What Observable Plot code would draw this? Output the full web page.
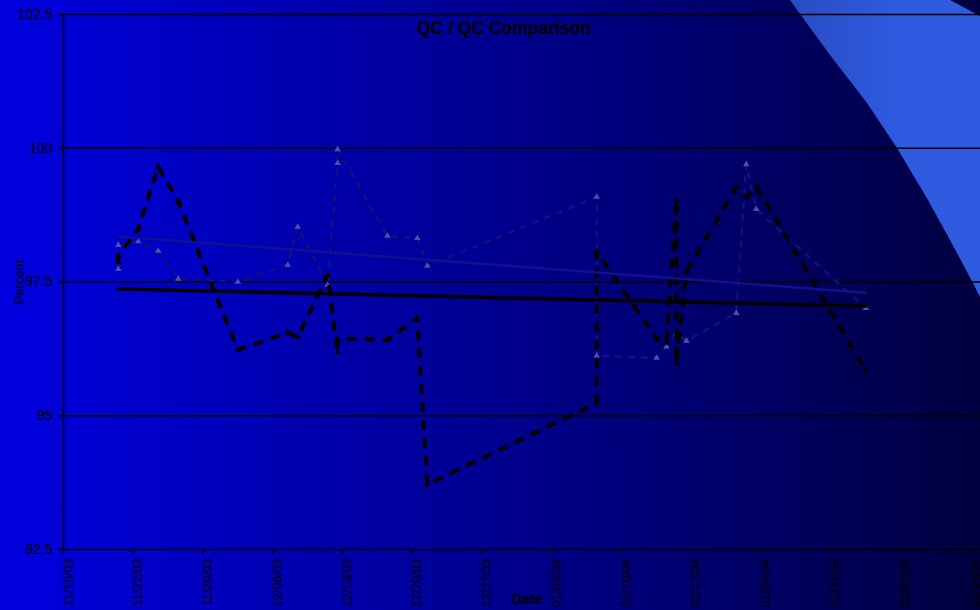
<!DOCTYPE html>
<html>
<head>
<meta charset="utf-8">
<script src="https://cdn.jsdelivr.net/npm/d3@7"></script>
<script src="https://cdn.jsdelivr.net/npm/@observablehq/plot@0.6"></script>
<style>
  html, body { margin: 0; padding: 0; background: #000050; }
  #wrap { position: relative; width: 980px; height: 610px; overflow: hidden;
          background: linear-gradient(to right, #0000e0 0%, #000040 100%);
          font-family: "Liberation Sans", Arial, sans-serif; }
  #deco { position: absolute; left: 0; top: 0; }
  #chart { position: absolute; left: 0; top: 0; }
  .lbl { position: absolute; color: #000; white-space: nowrap; line-height: 1; }
</style>
</head>
<body>
<div id="wrap">
  <svg id="deco" width="980" height="610">
    <defs>
      <linearGradient id="band" x1="790" x2="900" y1="0" y2="0" gradientUnits="userSpaceOnUse">
        <stop offset="0" stop-color="#294cc2"/>
        <stop offset="1" stop-color="#2e5be0"/>
      </linearGradient>
    </defs>
    <path d="M790,0 L950,0 L980,16 L980,297 L973,283 L950,240 L928,200 L897,148 L867,103 L830,55 L800,14 Z" fill="url(#band)"/>
  </svg>
  <div id="chart"></div>
  <div class="lbl" id="title" style="left:504px; top:20px; transform:translateX(-50%); font-size:17.5px; font-weight:bold;"></div>
  <div class="lbl" id="ylab" style="left:19px; top:282px; transform:translate(-50%,-50%) rotate(-90deg); font-size:13px;"></div>
  <div class="lbl" id="xlab" style="left:512px; top:592px; font-size:14px; font-weight:bold;"></div>
</div>
<script>
// ---- data ----
const title = "QC / QC Comparison";
const yLabel = "Percent";
const xLabel = "Date";
const xTickLabels = ["11/15/03","11/22/03","11/29/03","12/06/03","12/13/03","12/20/03","12/27/03",
                     "01/03/04","01/10/04","01/17/04","01/24/04","01/31/04","02/07/04","02/14/04"];
const yTicks = [92.5, 95, 97.5, 100, 102.5];

// Series A: thick black dashed line
const seriesADates = ["2003-11-20","2003-11-20","2003-11-22","2003-11-24","2003-11-26","2003-12-02",
  "2003-12-07","2003-12-08","2003-12-11","2003-12-12","2003-12-12","2003-12-17","2003-12-20","2003-12-21",
  "2004-01-07","2004-01-07","2004-01-13","2004-01-14","2004-01-15","2004-01-15","2004-01-16",
  "2004-01-21","2004-01-22","2004-01-23","2004-02-03"];
const seriesAValues = [97.87, 97.99, 98.49, 99.66, 99.01, 96.23,
  96.55, 96.47, 97.63, 96.19, 96.44, 96.42, 96.83, 93.71,
  95.24, 98.06, 96.44, 96.36, 99.03, 95.99, 97.69,
  99.27, 99.09, 99.29, 95.84];

// Series B: dark blue dotted line with triangle markers
const seriesBDates = ["2003-11-20","2003-11-20","2003-11-22","2003-11-24","2003-11-26","2003-12-02",
  "2003-12-07","2003-12-08","2003-12-11","2003-12-12","2003-12-12","2003-12-17","2003-12-20","2003-12-21",
  "2004-01-07","2004-01-07","2004-01-13","2004-01-14","2004-01-15","2004-01-16",
  "2004-01-21","2004-01-22","2004-01-23","2004-02-03"];
const seriesBValues = [97.74, 98.19, 98.26, 98.08, 97.56, 97.50,
  97.82, 98.53, 97.44, 99.72, 99.98, 98.36, 98.32, 97.80,
  99.09, 96.12, 96.08, 96.29, 96.53, 96.40,
  96.92, 99.70, 98.86, 97.01];

// Trend lines (end points)
const trendDates = ["2003-11-20", "2004-02-03"];
const trendAValues = [97.37, 97.05];
const trendBValues = [98.35, 97.30];

// ---- build ----
const parseISO = s => new Date(s + "T12:00:00Z");          // points sit mid-day
const parseTick = s => { const [m, d, y] = s.split("/").map(Number); return new Date(Date.UTC(2000 + y, m - 1, d)); };
const xTicks = xTickLabels.map(parseTick);
const tickLabelMap = new Map(xTicks.map((d, i) => [d.getTime(), xTickLabels[i]]));
const xDomain = [xTicks[0], new Date(Date.UTC(2004, 1, 15))];

const A = seriesADates.map((d, i) => ({date: parseISO(d), value: seriesAValues[i]}));
const B = seriesBDates.map((d, i) => ({date: parseISO(d), value: seriesBValues[i]}));
const TA = trendDates.map((d, i) => ({date: parseISO(d), value: trendAValues[i]}));
const TB = trendDates.map((d, i) => ({date: parseISO(d), value: trendBValues[i]}));

const chart = Plot.plot({
  width: 980, height: 610,
  marginLeft: 63, marginRight: 0, marginTop: 14, marginBottom: 61,
  x: {type: "utc", domain: xDomain},
  y: {domain: [92.5, 102.5]},
  style: {background: "transparent", color: "black", fontFamily: "'Liberation Sans', Arial, sans-serif", fontSize: "14px", overflow: "visible"},
  marks: [
    Plot.ruleY(yTicks, {stroke: "black", strokeWidth: 1.5}),
    Plot.ruleX([xDomain[0]], {stroke: "black", strokeWidth: 1.5}),
    Plot.axisY({ticks: yTicks, tickSize: 5, tickPadding: 6, tickFormat: d => String(d), label: null, fontSize: 14, strokeWidth: 1.5}),
    Plot.axisX({ticks: xTicks, tickSize: 5, tickFormat: () => "", label: null, strokeWidth: 1.5}),
    Plot.axisX({ticks: xTicks, tickSize: 0, tickPadding: 9, tickRotate: -90, dx: 5,
                tickFormat: d => tickLabelMap.get(+d), label: null, fontSize: 12.5}),
    Plot.line(B, {x: "date", y: "value", stroke: "#10107e", strokeWidth: 2.5, strokeDasharray: "5,8"}),
    Plot.dot(B, {x: "date", y: "value", symbol: "triangle", r: 2.4, fill: "#5050aa", stroke: "none"}),
    Plot.line(A, {x: "date", y: "value", stroke: "black", strokeWidth: 4, strokeDasharray: "7,11"}),
    Plot.dot(A, {x: "date", y: "value", symbol: "triangle", r: 2.4, fill: "black", stroke: "none"}),
    Plot.line(TB, {x: "date", y: "value", stroke: "#101090", strokeWidth: 2.5}),
    Plot.line(TA, {x: "date", y: "value", stroke: "black", strokeWidth: 3.5})
  ]
});
document.getElementById("chart").appendChild(chart);
document.getElementById("title").textContent = title;
document.getElementById("ylab").textContent = yLabel;
document.getElementById("xlab").textContent = xLabel;
</script>
</body>
</html>
